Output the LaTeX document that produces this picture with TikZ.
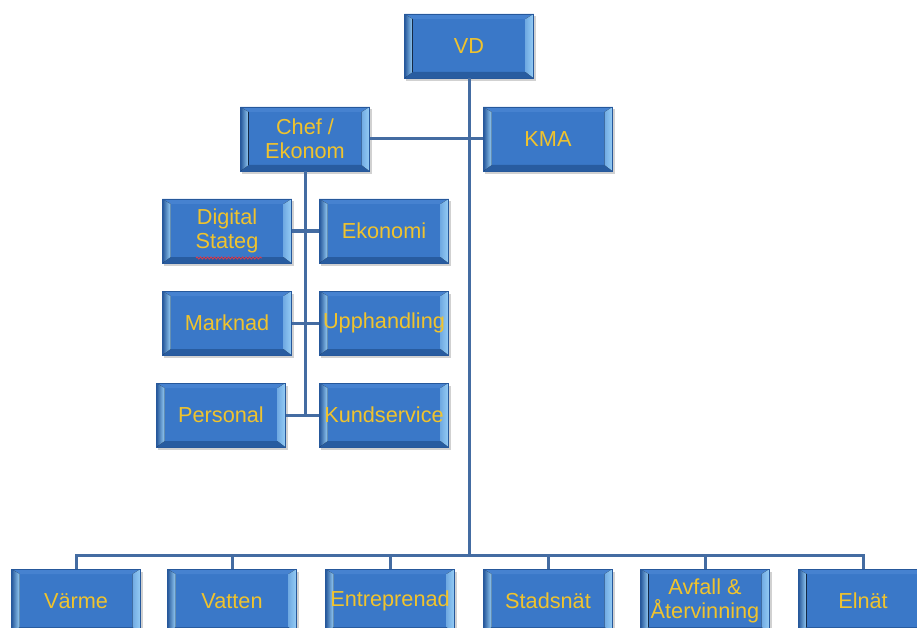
\documentclass[tikz,border=0pt]{standalone}
\usepackage{fontspec}
\setmainfont{Liberation Sans}
\usetikzlibrary{decorations.pathmorphing}
\definecolor{boxface}{RGB}{58,120,200}
\definecolor{boxdark}{RGB}{38,88,155}
\definecolor{bevlight}{RGB}{150,205,245}
\definecolor{bevtop}{RGB}{70,130,208}
\definecolor{bevbot}{RGB}{40,92,160}
\definecolor{gold}{RGB}{240,195,45}
\definecolor{linecol}{RGB}{68,108,162}
\definecolor{squig}{RGB}{215,60,80}
\tikzset{
 orgtext/.style={minimum width=129pt, minimum height=64pt, inner sep=0pt,
  text=gold, font=\fontsize{21.7}{24}\selectfont, align=center},
 conn/.style={draw=linecol, line width=3pt}
}
\newcommand\obox[4]{%
 \begin{scope}[shift={(#2-64.5,#3-32)}]
  \fill[black, opacity=0.18] (1.5,2.5) rectangle (131,67);
  \fill[boxface] (0,0) rectangle (129,64);
  \fill[bevtop] (0,0) -- (129,0) -- (121,5) -- (8,5) -- cycle;
  \fill[bevbot] (0,64) -- (129,64) -- (121,58) -- (8,58) -- cycle;
  \fill[left color=boxdark, right color=bevlight] (0,0) -- (8,5) -- (8,58) -- (0,64) -- cycle;
  \fill[left color=bevlight!60!boxface, right color=bevlight] (129,0) -- (121,5) -- (121,58) -- (129,64) -- cycle;
  \draw[boxdark, line width=0.7pt] (0,0) rectangle (129,64);
 \end{scope}
 \node[orgtext] (#1) at (#2,#3) {#4};}
\begin{document}
\begin{tikzpicture}[x=1pt,y=-1pt]
\useasboundingbox (0,0) rectangle (917,628);
\clip (0,0) rectangle (917,628);
\coordinate (bus) at (469,555);
\coordinate (cbot) at (305,415);
\obox{VD}{469}{46}{VD}
\obox{Chef}{305}{139}{Chef /\\Ekonom}
\obox{KMA}{548}{139}{KMA}
\obox{Digital}{227}{231}{Digital\\Stateg}
\obox{Ekonomi}{384}{231}{Ekonomi}
\obox{Marknad}{227}{323}{Marknad}
\obox{Upph}{384}{323}{Upphandling}
\obox{Personal}{221}{415}{Personal}
\obox{Kund}{384}{415}{Kundservice}
\obox{Varme}{76}{601}{Värme}
\obox{Vatten}{232}{601}{Vatten}
\obox{Entr}{390}{601}{Entreprenad}
\obox{Stads}{548}{601}{Stadsnät}
\obox{Avfall}{705}{601}{Avfall \&\\Återvinning}
\obox{Elnat}{863}{601}{Elnät}
\draw[conn] (VD.south) -- (bus);
\draw[conn] (Chef.east) -- (KMA.west);
\draw[conn] (Chef.south) -- (cbot);
\draw[conn] (Digital.east) -- (Ekonomi.west);
\draw[conn] (Marknad.east) -- (Upph.west);
\draw[conn] (Personal.east) -- (Kund.west);
\draw[conn] (Varme.north) -- (Varme.north |- bus) -| (Elnat.north);
\draw[conn] (Vatten.north) -- (Vatten.north |- bus);
\draw[conn] (Entr.north) -- (Entr.north |- bus);
\draw[conn] (Stads.north) -- (Stads.north |- bus);
\draw[conn] (Avfall.north) -- (Avfall.north |- bus);
\draw[squig, line width=0.9pt, decorate, decoration={snake, amplitude=1pt, segment length=3.5pt}] (196,258) -- (262,258);
\end{tikzpicture}
\end{document}
